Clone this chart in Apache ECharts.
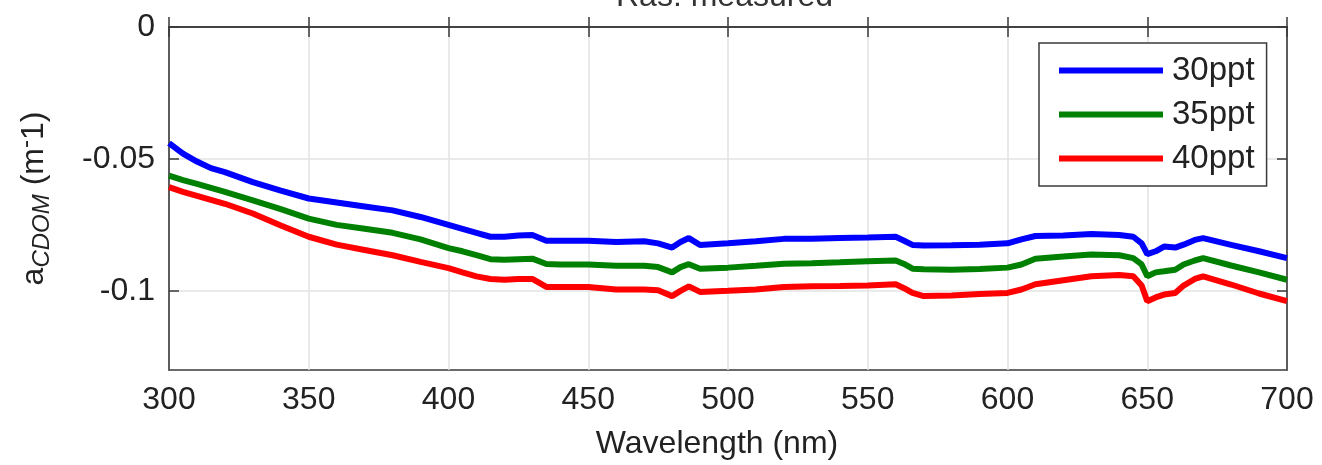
<!DOCTYPE html>
<html>
<head>
<meta charset="utf-8">
<script src="https://cdn.jsdelivr.net/npm/echarts@6/dist/echarts.min.js"></script>
<style>
html,body{margin:0;padding:0;background:#fff;}
#chart{width:1322px;height:465px;}
</style>
</head>
<body>
<div id="chart"></div>
<script>
const wavelength = [300,305,310,315,320,330,340,350,360,370,380,390,400,405,410,415,420,425,430,435,440,450,460,470,475,480,483,486,490,500,510,520,530,540,550,560,563,566,570,580,590,600,605,610,620,630,640,645,648,650,653,656,660,663,667,670,680,690,700];
const s30 = [-0.044,-0.048,-0.051,-0.0535,-0.055,-0.0588,-0.062,-0.065,-0.0665,-0.068,-0.0695,-0.072,-0.075,-0.0765,-0.078,-0.0795,-0.0795,-0.079,-0.0788,-0.081,-0.081,-0.081,-0.0815,-0.0812,-0.082,-0.0836,-0.0815,-0.080,-0.0826,-0.082,-0.0812,-0.0803,-0.0803,-0.080,-0.0798,-0.0795,-0.081,-0.0826,-0.0828,-0.0827,-0.0825,-0.082,-0.0805,-0.0792,-0.079,-0.0785,-0.0788,-0.0795,-0.082,-0.0861,-0.085,-0.0832,-0.0836,-0.0825,-0.0807,-0.080,-0.0826,-0.085,-0.0876];
const s35 = [-0.0563,-0.058,-0.0595,-0.061,-0.0625,-0.0657,-0.069,-0.0726,-0.075,-0.0765,-0.078,-0.0805,-0.0838,-0.085,-0.0865,-0.088,-0.0882,-0.088,-0.0878,-0.0898,-0.090,-0.090,-0.0905,-0.0905,-0.091,-0.093,-0.091,-0.0899,-0.0916,-0.0912,-0.0905,-0.0897,-0.0895,-0.0892,-0.0888,-0.0885,-0.0898,-0.0916,-0.0918,-0.092,-0.0917,-0.0912,-0.090,-0.0878,-0.087,-0.0862,-0.0865,-0.0876,-0.090,-0.0945,-0.093,-0.0926,-0.092,-0.090,-0.0885,-0.0876,-0.0904,-0.093,-0.0958];
const s40 = [-0.0607,-0.0625,-0.064,-0.0655,-0.067,-0.0707,-0.0752,-0.0795,-0.0825,-0.0845,-0.0865,-0.089,-0.0914,-0.093,-0.0945,-0.0955,-0.0958,-0.0955,-0.0955,-0.0985,-0.0985,-0.0985,-0.0995,-0.0995,-0.0998,-0.102,-0.100,-0.0983,-0.1004,-0.100,-0.0995,-0.0985,-0.0983,-0.0982,-0.098,-0.0975,-0.099,-0.1008,-0.102,-0.1018,-0.1012,-0.1008,-0.0995,-0.0975,-0.096,-0.0945,-0.094,-0.0945,-0.098,-0.1039,-0.1025,-0.1014,-0.1008,-0.098,-0.0955,-0.0945,-0.0976,-0.101,-0.1039];
const seriesNames = ['30ppt','35ppt','40ppt'];
const yTicks = [0,-0.05,-0.1];
const titleText = 'Ras: measured';
const xName = 'Wavelength (nm)';

const colors = ['#0000ff','#008000','#ff0000'];
const allSeries = [s30,s35,s40];
const font = 'Liberation Sans, Arial, sans-serif';
const chart = echarts.init(document.getElementById('chart'));
const axisCol = '#3a3a3a';
chart.setOption({
  animation:false,
  backgroundColor:'#fff',
  title:{text:titleText,top:-24,left:728 - 117,textStyle:{fontFamily:font,fontSize:32,fontWeight:'normal',color:'#333'}},
  grid:{left:169,right:35,top:27,bottom:92,show:true,borderColor:axisCol,borderWidth:1.5,backgroundColor:'transparent'},
  legend:{orient:'vertical',left:1039,top:43,data:seriesNames,icon:'rect',itemWidth:104,itemHeight:6,itemGap:11,
    padding:[11,12,11,20],borderColor:axisCol,borderWidth:1.5,backgroundColor:'#fff',
    textStyle:{fontFamily:font,fontSize:33,color:'#222',lineHeight:30,padding:[0,0,0,4]}},
  xAxis:[{type:'value',min:300,max:700,interval:50,position:'bottom',
    name:xName,nameLocation:'middle',nameGap:58,nameTextStyle:{fontFamily:font,fontSize:32,color:'#222',padding:[0,22,0,0]},
    axisLine:{show:true,lineStyle:{color:axisCol,width:1.5}},
    axisTick:{show:true,inside:true,length:10,lineStyle:{color:axisCol,width:1.5}},
    axisLabel:{fontFamily:font,fontSize:32,color:'#222',margin:14},
    splitLine:{show:true,lineStyle:{color:'#e3e3e3',width:1.5}}},
   {type:'value',min:300,max:700,interval:50,position:'top',
    axisLine:{show:true,lineStyle:{color:axisCol,width:1.5}},
    axisTick:{show:true,inside:true,length:10,lineStyle:{color:axisCol,width:1.5}},
    axisLabel:{show:false},splitLine:{show:false}}],
  yAxis:[{type:'value',min:-0.13,max:0,position:'left',
    name:'a{sub|CDOM} (m{sup|-}1)',nameLocation:'middle',nameGap:115,nameRotate:90,
    nameTextStyle:{fontFamily:font,fontSize:32,color:'#222',
      rich:{sub:{fontFamily:font,fontSize:24,fontStyle:'italic',color:'#222',verticalAlign:'bottom',padding:[16,0,0,0]},
            sup:{fontFamily:font,fontSize:24,color:'#222',verticalAlign:'top',padding:[0,0,14,0]}}},
    axisLine:{show:true,lineStyle:{color:axisCol,width:1.5}},
    axisTick:{show:true,inside:true,length:10,customValues:yTicks,lineStyle:{color:axisCol,width:1.5}},
    axisLabel:{fontFamily:font,fontSize:32,color:'#222',margin:14,customValues:yTicks},
    splitLine:{show:true,lineStyle:{color:'#e3e3e3',width:1.5}}},
   {type:'value',min:-0.13,max:0,position:'right',
    axisLine:{show:true,lineStyle:{color:axisCol,width:1.5}},
    axisTick:{show:true,inside:true,length:10,customValues:yTicks,lineStyle:{color:axisCol,width:1.5}},
    axisLabel:{show:false},splitLine:{show:false}}],
  series: seriesNames.map((n,i)=>({
    name:n,type:'line',xAxisIndex:0,yAxisIndex:0,showSymbol:false,symbol:'none',
    lineStyle:{color:colors[i],width:6},itemStyle:{color:colors[i]},
    data: wavelength.map((w,k)=>[w,allSeries[i][k]])
  }))
});
</script>
</body>
</html>
